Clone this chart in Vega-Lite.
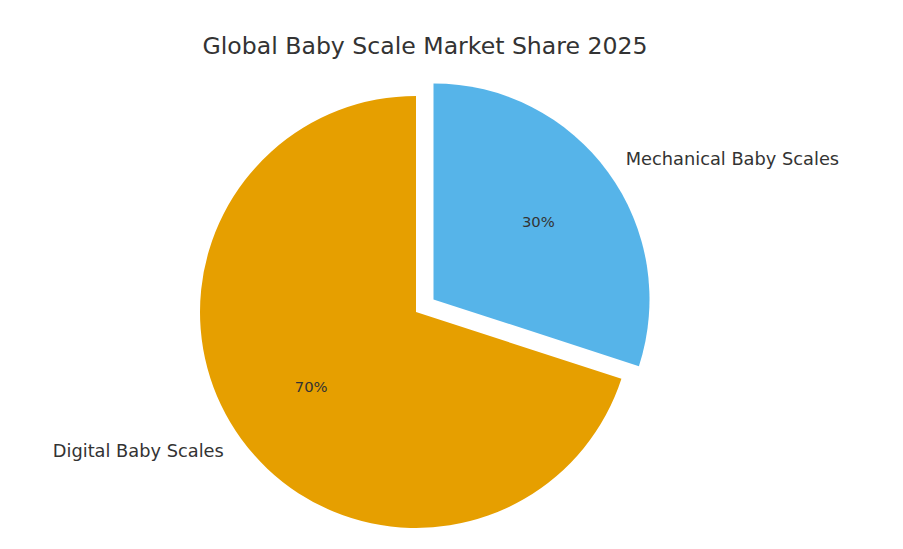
{
  "$schema": "https://vega.github.io/schema/vega-lite/v6.json",
  "width": 432,
  "height": 432,
  "autosize": {"type": "none"},
  "padding": {"left": 200, "top": 96, "right": 271, "bottom": 21},
  "background": "white",
  "title": {
    "text": "Global Baby Scale Market Share 2025",
    "font": "DejaVu Sans",
    "fontSize": 23.6,
    "fontWeight": "normal",
    "color": "#333333",
    "frame": "group",
    "anchor": "middle",
    "dx": 9,
    "offset": 25
  },
  "config": {"view": {"stroke": null}},
  "data": {
    "values": [
      {"category": "Digital Baby Scales", "share": 70, "pct": "70%"},
      {"category": "Mechanical Baby Scales", "share": 30, "pct": "30%"}
    ]
  },
  "encoding": {
    "theta": {"field": "share", "type": "quantitative", "stack": true},
    "order": {"field": "category", "sort": "descending"}
  },
  "layer": [
    {
      "mark": {"type": "arc", "outerRadius": 216},
      "encoding": {
        "color": {
          "field": "category",
          "type": "nominal",
          "scale": {"domain": ["Digital Baby Scales", "Mechanical Baby Scales"], "range": ["#E69F00", "#56B4E9"]},
          "legend": null
        },
        "opacity": {"condition": {"test": "datum.category === 'Mechanical Baby Scales'", "value": 0}, "value": 1}
      }
    },
    {
      "mark": {"type": "arc", "outerRadius": 216, "xOffset": 17.5, "yOffset": -12.6},
      "encoding": {
        "color": {"field": "category", "type": "nominal", "legend": null},
        "opacity": {"condition": {"test": "datum.category === 'Mechanical Baby Scales'", "value": 1}, "value": 0}
      }
    },
    {
      "mark": {"type": "text", "radius": 237.6, "align": "right", "baseline": "middle", "font": "DejaVu Sans", "fontSize": 17.8, "color": "#333333"},
      "encoding": {
        "text": {"condition": {"test": "datum.category === 'Digital Baby Scales'", "field": "category"}, "value": ""}
      }
    },
    {
      "mark": {"type": "text", "radius": 129.6, "align": "center", "baseline": "middle", "font": "DejaVu Sans", "fontSize": 14.8, "color": "#333333"},
      "encoding": {
        "text": {"condition": {"test": "datum.category === 'Digital Baby Scales'", "field": "pct"}, "value": ""}
      }
    },
    {
      "mark": {"type": "text", "radius": 237.6, "align": "left", "baseline": "middle", "font": "DejaVu Sans", "fontSize": 17.8, "color": "#333333", "xOffset": 17.5, "yOffset": -12.6},
      "encoding": {
        "text": {"condition": {"test": "datum.category === 'Mechanical Baby Scales'", "field": "category"}, "value": ""}
      }
    },
    {
      "mark": {"type": "text", "radius": 129.6, "align": "center", "baseline": "middle", "font": "DejaVu Sans", "fontSize": 14.8, "color": "#333333", "xOffset": 17.5, "yOffset": -12.6},
      "encoding": {
        "text": {"condition": {"test": "datum.category === 'Mechanical Baby Scales'", "field": "pct"}, "value": ""}
      }
    }
  ]
}
